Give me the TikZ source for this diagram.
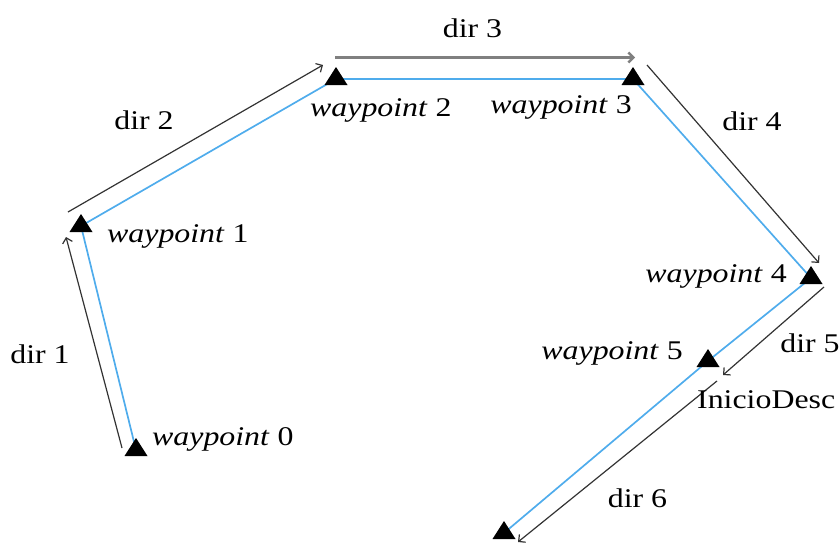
\documentclass[tikz,border=0pt]{standalone}
\usepackage{fontspec}
\setmainfont{Liberation Serif}[FakeStretch=1.18]
\usetikzlibrary{arrows.meta}
\definecolor{pathblue}{HTML}{4FACEC}
\tikzset{
  route/.style={draw=pathblue, line width=1.7pt},
  dirarrow/.style={draw=black!80, line width=1.2pt, -{Straight Barb[length=5pt,width=10pt]}},
  dirarrowgray/.style={draw=black!50, line width=2.4pt, -{Straight Barb[length=5pt,width=10pt]}},
  lbl/.style={inner sep=0pt, font=\fontsize{27}{32}\selectfont},
}
\begin{document}
\begin{tikzpicture}[x=1pt,y=-1pt]
\useasboundingbox (0,0) rectangle (839,544);
% waypoints (triangle centroids)
\coordinate (w0) at (136,450);
\coordinate (w1) at (81,226);
\coordinate (w2) at (336,79);
\coordinate (w3) at (633,79);
\coordinate (w4) at (811,278);
\coordinate (w5) at (708,361);
\coordinate (w6) at (504,533);
% route
\draw[route] (w0) -- (w1) -- (w2) -- (w3) -- (w4) -- (w5) -- (w6);
% direction arrow end points
\coordinate (d1s) at (122,448); \coordinate (d1e) at (66,237);
\coordinate (d2s) at (68,212);  \coordinate (d2e) at (323,65);
\coordinate (d3s) at (335,57.5); \coordinate (d3e) at (635,57.5);
\coordinate (d4s) at (647,65);  \coordinate (d4e) at (819,263);
\coordinate (d5s) at (824,287); \coordinate (d5e) at (723,375);
\coordinate (d6s) at (717,381); \coordinate (d6e) at (518,542);
\draw[dirarrow] (d1s) -- (d1e);
\draw[dirarrow] (d2s) -- (d2e);
\draw[dirarrowgray] (d3s) -- (d3e);
\draw[dirarrow] (d4s) -- (d4e);
\draw[dirarrow] (d5s) -- (d5e);
\draw[dirarrow] (d6s) -- (d6e);
% triangles
\foreach \w in {w0,w1,w2,w3,w4,w5,w6}{
  \fill[black] (\w) ++(0,-12) -- ++(11.5,18) -- ++(-23,0) -- cycle;
}
% labels
\node[lbl, anchor=base west] (l0) at (152,445) {\textit{waypoint} 0};
\node[lbl, anchor=base west] (l1) at (107,242) {\textit{waypoint} 1};
\node[lbl, anchor=base west] (l2) at (310,116) {\textit{waypoint} 2};
\node[lbl, anchor=base east] (l3) at (632,113) {\textit{waypoint} 3};
\node[lbl, anchor=base east] (l4) at (787,282) {\textit{waypoint} 4};
\node[lbl, anchor=base east] (l5) at (683,359) {\textit{waypoint} 5};
\node[lbl, anchor=base west] (lid) at (697,408) {InicioDesc};
\node[lbl, anchor=base] (t1) at (40,363) {dir 1};
\node[lbl, anchor=base] (t2) at (144,129) {dir 2};
\node[lbl, anchor=base] (t3) at (472.5,37) {dir 3};
\node[lbl, anchor=base] (t4) at (752,130) {dir 4};
\node[lbl, anchor=base] (t5) at (810,352) {dir 5};
\node[lbl, anchor=base] (t6) at (637.5,507) {dir 6};
\end{tikzpicture}
\end{document}
